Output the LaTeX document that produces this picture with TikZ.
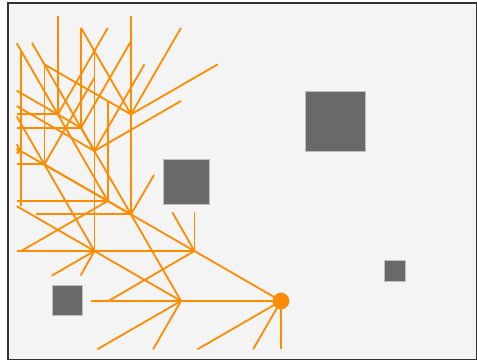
\documentclass[tikz,border=0pt]{standalone}
\definecolor{edgeor}{HTML}{FF8C00}
\definecolor{obst}{HTML}{696969}
\definecolor{bgc}{HTML}{F4F4F4}
\begin{document}
\begin{tikzpicture}[x=1pt,y=-1pt,
  edge/.style={draw=edgeor,line width=1.8pt},
  vedge/.style={draw=edgeor,line width=1.4pt},
  obstacle/.style={rectangle,fill=obst,draw=gray!50,line width=0.6pt,inner sep=0pt},
  goal/.style={circle,fill=edgeor,inner sep=0pt,minimum size=16.6pt}]
\useasboundingbox (0,0) rectangle (477,363);
\fill[white] (0,0) rectangle (477,363);
\draw[fill=bgc,draw=black!80,line width=1.3pt] (8,3) rectangle (476.3,359.3);
% obstacles
\node[obstacle,minimum width=60pt,minimum height=60pt] (obsA) at (335.7,121.7) {};
\node[obstacle,minimum width=45.7pt,minimum height=45pt] (obsB) at (186.2,181.5) {};
\node[obstacle,minimum width=21.4pt,minimum height=21.7pt] (obsC) at (395,270.8) {};
\node[obstacle,minimum width=30pt,minimum height=30pt] (obsD) at (67.3,300) {};
% tree nodes
\coordinate (G) at (281,301);
\coordinate (A) at (181,301);
\coordinate (B) at (194.4,251);
\coordinate (C) at (131,214.4);
\coordinate (D) at (94.4,251);
\coordinate (E) at (107.8,201);
\coordinate (F) at (131,114.4);
\coordinate (I) at (81,127.8);
\coordinate (K) at (44.4,164.4);
\coordinate (H) at (94.4,151);
\coordinate (N) at (94.4,51);
\coordinate (M) at (44.4,64.4);
\coordinate (J) at (57.8,114.4);
\coordinate (P) at (81,27.8);
\coordinate (Q) at (20.6,151);
\coordinate (Jur) at (107.8,27.8);
% free ends
\coordinate (Gdl30) at (197.5,349.3);
\coordinate (Gdl60) at (253.1,349.3);
\coordinate (Gd) at (281,349.3);
\coordinate (Al) at (90.7,301);
\coordinate (Adl30) at (97.3,349.3);
\coordinate (Adl60) at (153.1,349.3);
\coordinate (Bul60) at (172.3,212.3);
\coordinate (Bu) at (194.4,212.3);
\coordinate (Bdl30) at (108.5,301);
\coordinate (Cl) at (36,214.4);
\coordinate (Cur60) at (154,175);
\coordinate (Dul30) at (16.7,206.1);
\coordinate (Dl) at (16.7,251);
\coordinate (Ddl30) at (51.7,275.7);
\coordinate (Ddl60) at (80.6,275.5);
\coordinate (Eu) at (107.8,101);
\coordinate (El) at (16.7,201);
\coordinate (Edl30) at (21.2,251);
\coordinate (Fu) at (131,16);
\coordinate (Fur60) at (181,27.8);
\coordinate (Fur30) at (217.6,64.4);
\coordinate (Hur30) at (181,101);
\coordinate (Hur60) at (144.4,64.4);
\coordinate (Hul30) at (16.7,106.1);
\coordinate (Iur60) at (131,41.2);
\coordinate (Iul30) at (16.7,90.7);
\coordinate (Il) at (16.7,127.8);
\coordinate (Ju) at (57.8,16);
\coordinate (Jul60) at (16.7,43.2);
\coordinate (Jl) at (16.7,114.4);
\coordinate (Kur60) at (94.4,77.8);
\coordinate (Kl) at (16.7,164.4);
\coordinate (Kul60) at (16.7,116.4);
\coordinate (Mul60) at (31.9,42.7);
\coordinate (Qu) at (20.6,52);
\coordinate (Qd) at (20.6,206);
\coordinate (Ql) at (16.7,151);
\coordinate (Qul30) at (16.7,148.7);
\coordinate (Qdl30) at (16.7,153.3);
\coordinate (Qul60) at (16.7,144.2);
% edges
\draw[edge] (G) -- (A);
\draw[edge] (G) -- (B);
\draw[edge] (G) -- (Gdl30);
\draw[edge] (G) -- (Gdl60);
\draw[vedge] (G) -- (Gd);
\draw[edge] (A) -- (Al);
\draw[edge] (A) -- (D);
\draw[edge] (A) -- (C);
\draw[edge] (A) -- (Adl30);
\draw[edge] (A) -- (Adl60);
\draw[edge] (B) -- (D);
\draw[edge] (B) -- (E);
\draw[edge] (B) -- (Bul60);
\draw[vedge] (B) -- (Bu);
\draw[edge] (B) -- (Bdl30);
\draw[vedge] (C) -- (F);
\draw[edge] (C) -- (I);
\draw[edge] (C) -- (K);
\draw[edge] (C) -- (Cl);
\draw[edge] (C) -- (Cur60);
\draw[vedge] (D) -- (H);
\draw[edge] (D) -- (K);
\draw[edge] (D) -- (Dul30);
\draw[edge] (D) -- (Dl);
\draw[edge] (D) -- (Ddl30);
\draw[edge] (D) -- (Ddl60);
\draw[vedge] (E) -- (Eu);
\draw[edge] (E) -- (El);
\draw[edge] (E) -- (Edl30);
\draw[edge] (E) -- (J);
\draw[edge] (E) -- (Q);
\draw[vedge] (F) -- (Fu);
\draw[edge] (F) -- (Fur60);
\draw[edge] (F) -- (Fur30);
\draw[edge] (F) -- (P);
\draw[edge] (F) -- (M);
\draw[vedge] (H) -- (N);
\draw[edge] (H) -- (Hur30);
\draw[edge] (H) -- (Hur60);
\draw[edge] (H) -- (Hul30);
\draw[edge] (H) -- (M);
\draw[edge] (I) -- (Iur60);
\draw[vedge] (I) -- (P);
\draw[edge] (I) -- (Iul30);
\draw[edge] (I) -- (Il);
\draw[vedge] (J) -- (Ju);
\draw[edge] (J) -- (Jur);
\draw[edge] (J) -- (Jul60);
\draw[edge] (J) -- (Jl);
\draw[vedge] (K) -- (M);
\draw[edge] (K) -- (Kur60);
\draw[edge] (K) -- (Kl);
\draw[edge] (K) -- (Kul60);
\draw[edge] (M) -- (Mul60);
\draw[edge] (Qu) -- (Qd);
\draw[edge] (Q) -- (Ql);
\draw[edge] (Q) -- (Qul30);
\draw[edge] (Q) -- (Qdl30);
\draw[edge] (Q) -- (Qul60);
% goal
\node[goal] (goal) at (G) {};
\end{tikzpicture}
\end{document}
